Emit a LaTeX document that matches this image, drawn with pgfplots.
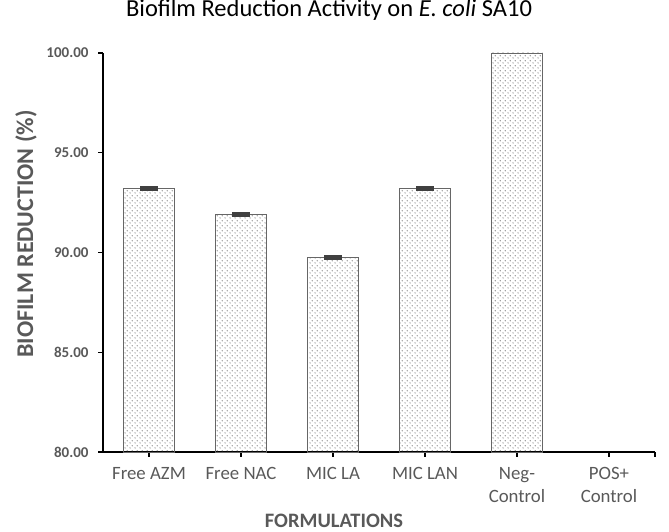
\documentclass[border=0pt]{standalone}
\usepackage{pgfplots}
\pgfplotsset{compat=1.18}
\usepackage{fontspec}
\setmainfont{Carlito}
\usetikzlibrary{patterns.meta}
\definecolor{txt}{HTML}{595959}
\tikzdeclarepattern{
  name=mydots, type=uncolored,
  bounding box={(0pt,0pt) and (4.6pt,4.6pt)},
  tile size={(4.6pt,4.6pt)},
  code={
    \fill (1.15pt,1.15pt) circle (0.65pt);
    \fill (3.45pt,3.45pt) circle (0.65pt);
  }
}
\begin{document}
\begin{tikzpicture}
\begin{axis}[
 at={(103pt,80pt)}, anchor=south west,
 scale only axis, width=552pt, height=399pt,
 ymin=80, ymax=100, xmin=-0.5, xmax=5.5,
 axis lines*=left,
 axis line style={-, black, line width=1.6pt},
 tick align=outside,
 major tick length=5pt,
 tick style={black, line width=1.3pt},
 ytick={80,85,90,95,100},
 /pgf/number format/assume math mode=true,
 yticklabel style={/pgf/number format/fixed, /pgf/number format/fixed zerofill, /pgf/number format/precision=2, font=\bfseries\fontsize{15}{18}\selectfont, text=txt, xshift=-6pt},
 xtick={0,1,2,3,4,5},
 xticklabels={Free AZM, Free NAC, MIC LA, MIC LAN, {Neg-\\Control}, {POS+\\Control}},
 xticklabel style={align=center, font=\fontsize{18.8}{23}\selectfont, text=txt, yshift=-7pt},
 extra x ticks={5.5}, extra x tick labels={},
 clip=false,
]
\addplot[ybar, bar width=51pt, bar shift=0pt, draw=gray!80!black, line width=0.8pt, pattern={mydots}, pattern color=gray!70!black,
  error bars/.cd, y dir=both, y explicit,
  error bar style={line width=2.5pt, color=darkgray},
  error mark options={rotate=90, mark size=9pt, line width=2.5pt, color=darkgray}]
 coordinates {
 (0,93.2) +- (0,0.06)
 (1,91.9) +- (0,0.06)
 (2,89.75) +- (0,0.06)
 (3,93.2) +- (0,0.06)
 };
\addplot[ybar, bar width=51pt, bar shift=0pt, draw=gray!80!black, line width=0.8pt, pattern={mydots}, pattern color=gray!70!black]
 coordinates {
 (4,100)
 };
\end{axis}
\node[anchor=base, font=\fontsize{24.5}{28}\selectfont] at (329pt,515pt) {Biofilm Reduction Activity on \textit{E. coli} SA10};
\node[anchor=base, rotate=90, font=\bfseries\fontsize{24}{28}\selectfont, text=txt] at (33pt,298pt) {BIOFILM REDUCTION (\%)};
\node[anchor=base, font=\bfseries\fontsize{20.5}{24}\selectfont, text=txt] at (334pt,4pt) {FORMULATIONS};
\pgfresetboundingbox
\useasboundingbox (0pt,0pt) rectangle (669pt,532pt);
\end{tikzpicture}
\end{document}
